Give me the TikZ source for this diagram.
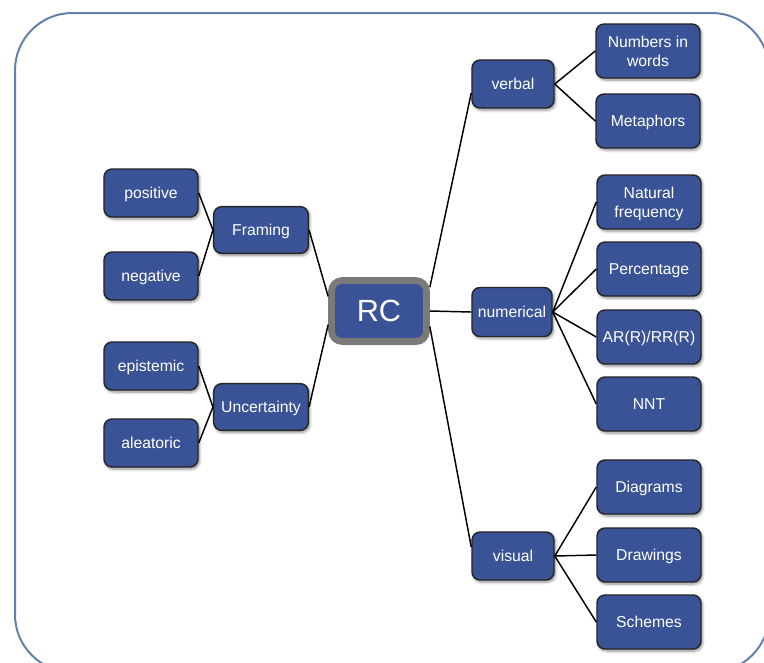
\documentclass[tikz,border=0pt]{standalone}
\usepackage{fontspec}
\setmainfont{Liberation Sans}
\usetikzlibrary{shadows.blur}
\definecolor{boxblue}{RGB}{58,83,150}
\definecolor{frameblue}{RGB}{100,128,172}
\definecolor{rcgray}{RGB}{122,122,122}
\tikzset{
 box/.style={draw=black!85, line width=1.1pt, fill=boxblue, rounded corners=6pt, text=white,
   font=\fontsize{11.8}{14}\selectfont, align=center, inner sep=0pt, text depth=0pt,
   blur shadow={shadow xshift=1pt, shadow yshift=-1.5pt, shadow blur steps=6, shadow opacity=45}},
 leftbox/.style={box, minimum width=70.5pt, minimum height=36pt},
 parentbox/.style={box, minimum width=71pt, minimum height=35pt},
 rightbox/.style={box, minimum width=78pt, minimum height=40.5pt},
 midbox/.style={box, minimum width=61.5pt, minimum height=36pt},
 rootbox/.style={box, draw=rcgray, line width=5pt, rounded corners=8pt, minimum width=71.25pt, minimum height=45.75pt,
   font=\fontsize{23}{26}\selectfont},
 link/.style={draw=black, line width=1.1pt},
}
\begin{document}
\begin{tikzpicture}[x=0.75pt, y=-0.75pt]
\useasboundingbox (0,0) rectangle (764,662);
\begin{scope}
\clip (0,0) rectangle (764,662);
\draw[frameblue, line width=1.5pt, rounded corners=43pt] (15,13) rectangle (769,672);
\end{scope}

% left side
\node[leftbox] (positive) at (151,193) {positive};
\node[leftbox] (negative) at (151,276) {negative};
\node[leftbox] (epistemic) at (151,366) {epistemic};
\node[leftbox] (aleatoric) at (151,443) {aleatoric};
\node[parentbox] (Framing) at (261,230) {Framing};
\node[parentbox] (Uncertainty) at (261,407) {Uncertainty};

% root
\node[rootbox] (RC) at (379,311) {RC};

% middle right
\node[midbox] (verbal) at (513,84) {verbal};
\node[box, minimum width=60pt, minimum height=36.75pt] (numerical) at (512,312) {numerical};
\node[midbox] (visual) at (513,556) {visual};

% right
\node[rightbox] (words) at (648,51) {Numbers in\\words};
\node[rightbox] (metaphors) at (648,121) {Metaphors};
\node[rightbox] (natural) at (649,202) {Natural\\frequency};
\node[rightbox] (percentage) at (649,269) {Percentage};
\node[rightbox] (arrr) at (649,337) {AR(R)/RR(R)};
\node[rightbox] (nnt) at (649,404) {NNT};
\node[rightbox] (diagrams) at (649,487) {Diagrams};
\node[rightbox] (drawings) at (649,555) {Drawings};
\node[rightbox] (schemes) at (649,622) {Schemes};

% connectors
\draw[link] (positive.east) -- (Framing.west);
\draw[link] (negative.east) -- (Framing.west);
\draw[link] (epistemic.east) -- (Uncertainty.west);
\draw[link] (aleatoric.east) -- (Uncertainty.west);
\draw[link] (Framing.east) -- (RC.164);
\draw[link] (Uncertainty.east) -- (RC.195);
\draw[link] (RC.25) -- (verbal.192);
\draw[link] (RC.east) -- (numerical.west);
\draw[link] (RC.-17) -- (visual.168);
\draw[link] (verbal.east) -- (words.west);
\draw[link] (verbal.east) -- (metaphors.west);
\draw[link] (numerical.east) -- (natural.west);
\draw[link] (numerical.east) -- (percentage.west);
\draw[link] (numerical.east) -- (arrr.west);
\draw[link] (numerical.east) -- (nnt.west);
\draw[link] (visual.east) -- (diagrams.west);
\draw[link] (visual.east) -- (drawings.west);
\draw[link] (visual.east) -- (schemes.west);
\end{tikzpicture}
\end{document}
